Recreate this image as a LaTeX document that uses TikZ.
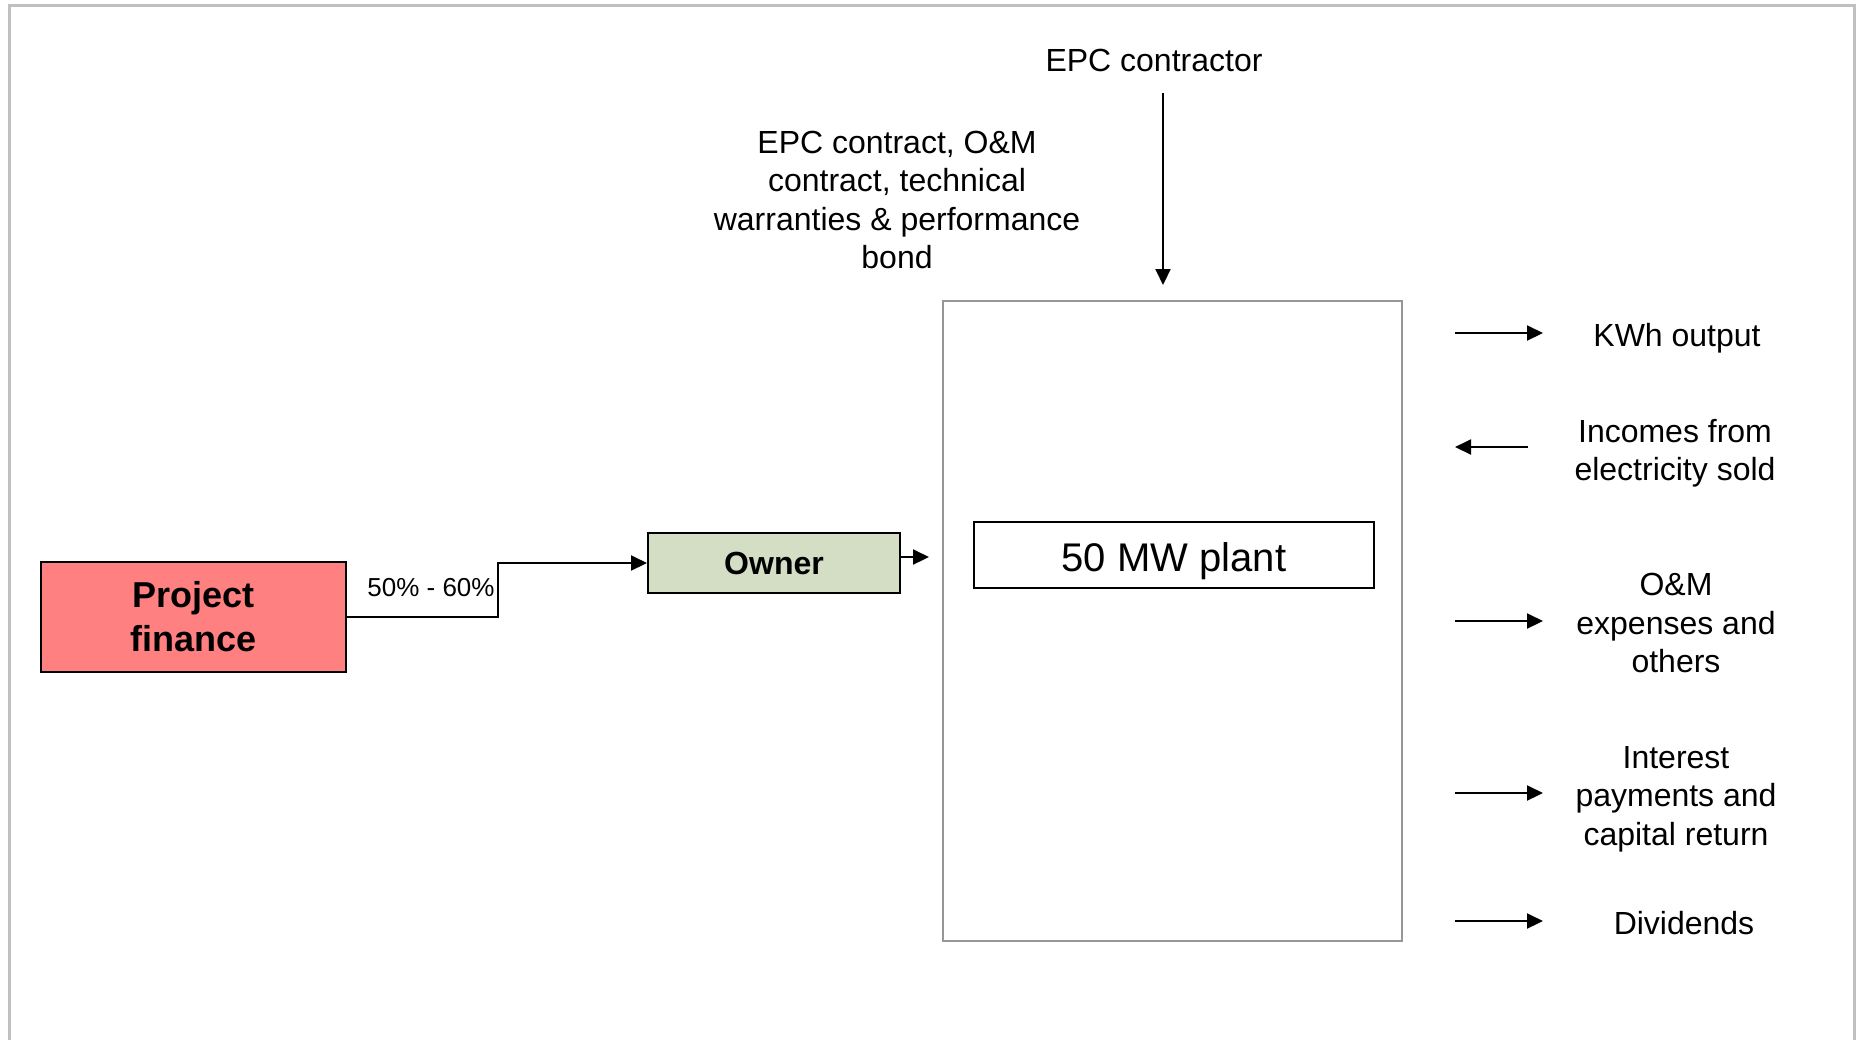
\documentclass[tikz,border=0pt]{standalone}
\usepackage{fontspec}
\setmainfont{Liberation Sans}
\usetikzlibrary{arrows.meta, positioning, calc}

\definecolor{finred}{RGB}{255,128,128}
\definecolor{ownergreen}{RGB}{211,222,196}
\definecolor{framegray}{RGB}{192,192,192}
\definecolor{boxgray}{RGB}{150,150,150}

\begin{document}
\begin{tikzpicture}[
  x=0.5pt, y=-0.5pt,
  >={Triangle[length=8pt, width=7.5pt]},
  every node/.style = {font=\fontsize{16pt}{19.2pt}\selectfont},
  %-- block styles -------------------------------------------------------
  finbox/.style   = {draw, line width=1.2pt, fill=finred,
                     minimum width=152.5pt, minimum height=55pt,
                     inner sep=0pt, align=center,
                     font=\fontsize{18pt}{22pt}\selectfont\bfseries},
  ownerbox/.style = {draw, line width=1pt, fill=ownergreen,
                     minimum width=126pt, minimum height=30pt,
                     inner sep=0pt, align=center,
                     font=\fontsize{16pt}{19pt}\selectfont\bfseries},
  plantbox/.style = {draw=boxgray, line width=1pt,
                     minimum width=229.5pt, minimum height=320pt,
                     inner sep=0pt},
  plantlab/.style = {draw, line width=0.9pt, fill=white,
                     minimum width=200pt, minimum height=33pt,
                     text height=16.3pt, text depth=0pt,
                     inner sep=0pt, font=\fontsize{20pt}{24pt}\selectfont},
  flowlab/.style  = {align=center, inner sep=1pt},
  pctlab/.style   = {font=\fontsize{13pt}{15pt}\selectfont, inner sep=1pt},
  arrow/.style    = {->, line width=1pt},
]

\useasboundingbox (0,0) rectangle (1856,1040);

% ── Page frame ────────────────────────────────────────────────────────────────
\draw[framegray, line width=1.5pt] (9,1040) -- (9,5) -- (1854,5) -- (1854,1040);

% ── Financing side ────────────────────────────────────────────────────────────
\node[finbox] (pf) at (193.5,617) {Project\\finance};
\node[ownerbox] (owner) at (774,563) {Owner};

\draw[arrow] (pf.east) -- ++(151,0) |- (owner.west);
\node[pctlab] (pct) at (431,588) {50\% - 60\%};

% ── Plant block ───────────────────────────────────────────────────────────────
\node[plantbox] (plant) at (1172.5,621) {};
\node[plantlab] (mw) at (1174,555) {50 MW plant};

\coordinate (ownout) at (929,557);
\draw[arrow] (owner.east|-ownout) -- (ownout);

% ── Contractor and contracts ──────────────────────────────────────────────────
\node[flowlab] (epc) at (1154,60) {EPC contractor};
\node[flowlab] (contracts) at (897,200)
  {EPC contract, O\&M\\contract, technical\\warranties \& performance\\bond};

\coordinate (epctop) at (1163,93);
\coordinate (epctip) at (1163,285);
\draw[arrow] (epctop) -- (epctip);

% ── Cash and energy flows ─────────────────────────────────────────────────────
\node[flowlab] (kwh)    at (1677,338) {KWh output};
\node[flowlab] (income) at (1675,453) {Incomes from\\electricity sold};
\node[flowlab] (om)     at (1676,623) {O\&M\\expenses and\\others};
\node[flowlab] (intr)   at (1676,799) {Interest\\payments and\\capital return};
\node[flowlab] (div)    at (1684,923) {Dividends};

\coordinate (kwhA) at (1455,333);  \coordinate (kwhB) at (1543,333);
\coordinate (incA) at (1528,447);  \coordinate (incB) at (1455,447);
\coordinate (omA)  at (1455,621);  \coordinate (omB)  at (1543,621);
\coordinate (intA) at (1455,793);  \coordinate (intB) at (1543,793);
\coordinate (divA) at (1455,921);  \coordinate (divB) at (1543,921);

\draw[arrow] (kwhA) -- (kwhB);
\draw[arrow] (incA) -- (incB);
\draw[arrow] (omA)  -- (omB);
\draw[arrow] (intA) -- (intB);
\draw[arrow] (divA) -- (divB);

\end{tikzpicture}
\end{document}
